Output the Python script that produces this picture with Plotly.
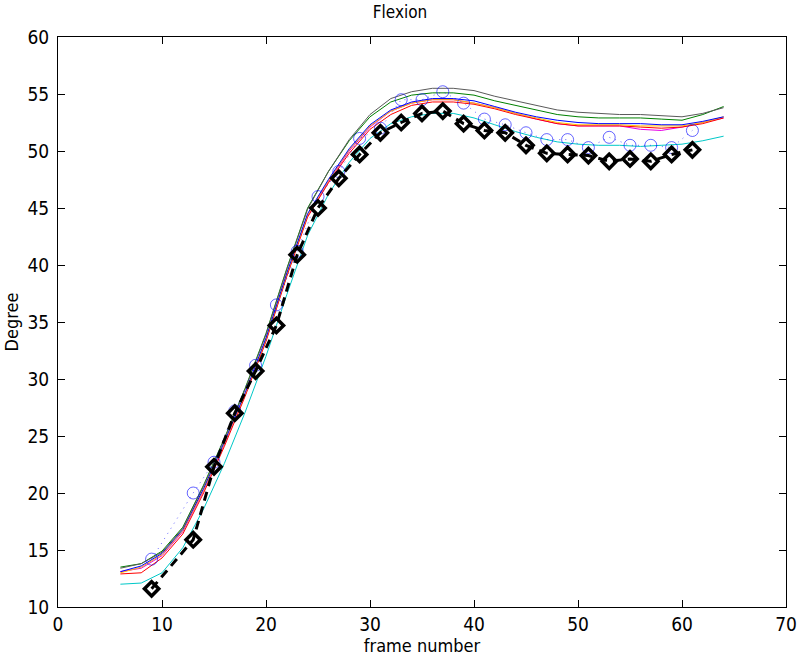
import plotly.graph_objects as go

frames = [6, 8, 10, 12, 14, 16, 18, 20, 22, 24, 26, 28, 30, 32, 34, 36, 38, 40,
          42, 44, 46, 48, 50, 52, 54, 56, 58, 60, 62, 64]

gray_vals = [13.4, 13.8, 14.8, 16.9, 20.6, 24.7, 29.1, 33.9, 39.6, 44.9, 48.2, 51.0, 53.2, 54.6, 55.2,
             55.5, 55.5, 55.3, 54.8, 54.4, 54.0, 53.6, 53.4, 53.3, 53.2, 53.2, 53.1, 53.0, 53.3, 53.8]
green_vals = [13.5, 13.8, 14.9, 17.0, 20.7, 24.8, 29.2, 34.0, 39.7, 45.0, 48.2, 50.9, 53.0, 54.3, 54.9,
              55.1, 55.1, 54.9, 54.4, 54.0, 53.6, 53.2, 53.0, 52.9, 52.9, 52.9, 52.8, 52.7, 53.2, 53.9]
blue_vals = [13.1, 13.6, 14.7, 16.8, 20.4, 24.5, 28.8, 33.6, 39.3, 44.5, 47.5, 50.2, 52.3, 53.6, 54.3,
             54.6, 54.6, 54.4, 53.9, 53.4, 53.0, 52.7, 52.5, 52.4, 52.4, 52.4, 52.3, 52.3, 52.6, 53.0]
yellow_vals = [13.0, 13.5, 14.6, 16.7, 20.3, 24.4, 28.7, 33.5, 39.2, 44.4, 47.4, 50.1, 52.2, 53.5, 54.2,
               54.5, 54.5, 54.2, 53.8, 53.3, 52.9, 52.5, 52.3, 52.3, 52.3, 52.2, 52.2, 52.2, 52.5, 53.0]
red_vals = [12.9, 13.0, 14.3, 16.4, 20.0, 24.1, 28.5, 33.3, 39.0, 44.2, 47.2, 49.8, 51.9, 53.2, 54.0,
            54.3, 54.3, 54.1, 53.7, 53.2, 52.8, 52.4, 52.2, 52.2, 52.2, 52.1, 52.0, 52.1, 52.4, 52.9]
magenta_vals = [13.1, 13.4, 14.5, 16.6, 20.2, 24.3, 28.6, 33.4, 39.1, 44.3, 47.3, 50.0, 52.1, 53.5, 54.2,
                54.5, 54.5, 54.2, 53.8, 53.3, 52.8, 52.4, 52.2, 52.2, 52.2, 51.9, 51.8, 52.1, 52.5, 52.9]
cyan_vals = [12.0, 12.1, 13.0, 15.2, 18.6, 22.6, 27.1, 32.0, 37.4, 42.6, 46.2, 49.0, 51.1, 52.4, 53.0,
             53.3, 53.3, 52.9, 52.3, 51.7, 51.2, 50.8, 50.6, 50.5, 50.5, 50.4, 50.5, 50.6, 50.9, 51.3]

sample_frames = [9, 13, 15, 17, 19, 21, 23, 25, 27, 29, 31, 33, 35, 37, 39, 41, 43, 45,
                 47, 49, 51, 53, 55, 57, 59, 61]
circle_vals = [14.2, 20.0, 22.7, 27.2, 31.2, 36.5, 41.2, 46.0, 48.2, 51.1, 52.0, 54.5, 54.5, 55.2,
               54.2, 52.8, 52.3, 51.6, 51.0, 51.0, 50.3, 51.2, 50.5, 50.5, 50.3, 51.8]
diamond_vals = [11.6, 15.9, 22.3, 27.0, 30.7, 34.7, 40.9, 45.0, 47.6, 49.7, 51.6, 52.5, 53.3, 53.5,
                52.4, 51.8, 51.6, 50.5, 49.8, 49.7, 49.6, 49.1, 49.3, 49.1, 49.7, 50.1]

fig = go.Figure()

lines = [
    (cyan_vals, "rgb(0,200,200)"),
    (magenta_vals, "rgb(230,0,230)"),
    (red_vals, "rgb(255,0,0)"),
    (yellow_vals, "rgb(255,190,0)"),
    (blue_vals, "rgb(0,0,255)"),
    (green_vals, "rgb(0,128,0)"),
    (gray_vals, "rgb(90,90,90)"),
]
for vals, col in lines:
    fig.add_trace(go.Scatter(x=frames, y=vals, mode="lines",
                             line=dict(color=col, width=1), showlegend=False))

fig.add_trace(go.Scatter(x=sample_frames, y=circle_vals, mode="lines+markers",
                         line=dict(color="rgba(0,0,255,0.6)", width=1, dash="1px,5px"),
                         marker=dict(symbol="circle-open", size=12,
                                     line=dict(color="rgb(0,0,255)", width=1)),
                         showlegend=False))

fig.add_trace(go.Scatter(x=sample_frames, y=diamond_vals, mode="lines+markers",
                         line=dict(color="black", width=3, dash="9px,6px"),
                         marker=dict(symbol="diamond-open", size=11, color="black",
                                     line=dict(color="black", width=3.5)),
                         showlegend=False))

font_family = "DejaVu Sans Condensed, Liberation Sans Narrow, Roboto, Arial, sans-serif"

fig.update_layout(
    width=800, height=662,
    margin=dict(l=58, r=14, t=37, b=55),
    paper_bgcolor="white", plot_bgcolor="white",
    font=dict(family=font_family, color="black", size=18),
    title=dict(text="Flexion", x=0.5, xanchor="center", y=0.982, yanchor="middle",
               font=dict(size=17, family=font_family)),
)
fig.update_xaxes(range=[0, 70], tickvals=[0, 10, 20, 30, 40, 50, 60, 70],
                 ticks="inside", ticklen=7, tickcolor="black", showline=True,
                 linecolor="black", linewidth=1, mirror="ticks", showgrid=False,
                 zeroline=False, tickfont=dict(size=19), automargin=False,
                 title=dict(text="frame number", font=dict(size=18), standoff=0))
fig.update_yaxes(range=[10, 60], tickvals=[10, 15, 20, 25, 30, 35, 40, 45, 50, 55, 60],
                 ticks="inside", ticklen=7, tickcolor="black", showline=True,
                 linecolor="black", linewidth=1, mirror="ticks", showgrid=False,
                 zeroline=False, tickfont=dict(size=19), automargin=False,
                 ticklabelstandoff=4,
                 title=dict(text="Degree", font=dict(size=18), standoff=4))

fig.write_html("out.html", config={"displayModeBar": False},
               post_script="document.body.style.margin='0';document.body.style.overflow='hidden';")
